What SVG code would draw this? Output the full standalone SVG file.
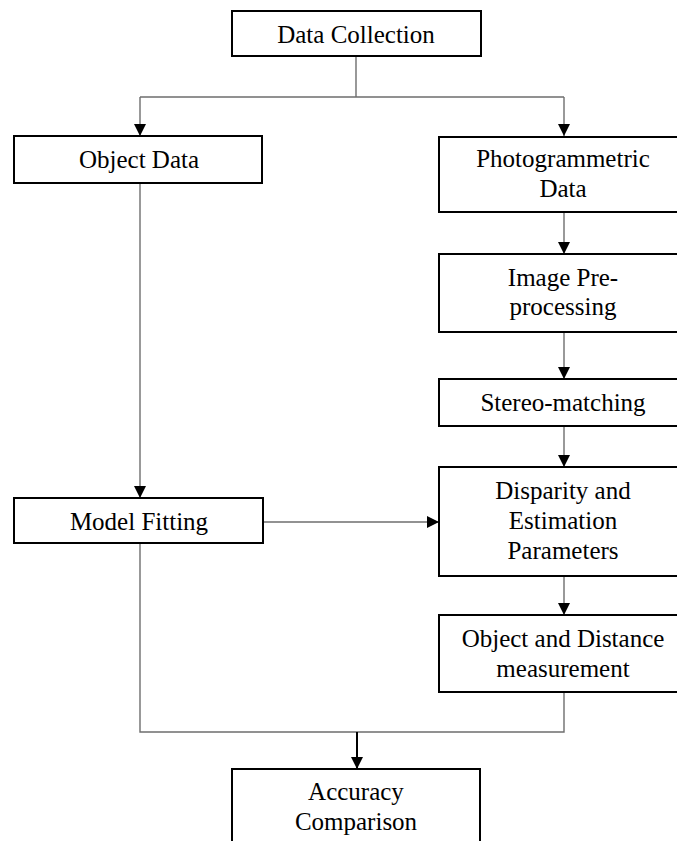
<svg xmlns="http://www.w3.org/2000/svg" width="677" height="841" viewBox="0 0 677 841">
<style>
.box{fill:#fff;stroke:#000;stroke-width:2}
.lbl{font-family:"Liberation Serif","Times New Roman",serif;font-size:25px;fill:#000;text-anchor:middle}
.con{fill:none;stroke:#6e6e6e;stroke-width:1.4}
.arr{marker-end:url(#ah)}
</style>
<defs>
<marker id="ah" markerUnits="userSpaceOnUse" markerWidth="12" markerHeight="14" refX="12" refY="6" orient="auto">
<path d="M0,0 L12,6 L0,12 Z" fill="#000"/>
</marker>
</defs>
<rect width="677" height="841" fill="#fff"/>
<g id="connectors">
<path class="con" d="M356,56 V97 M140,97 H564"/>
<path class="con arr" d="M140,97 V136"/>
<path class="con arr" d="M564,97 V136"/>
<path class="con arr" d="M140,183 V498"/>
<path class="con arr" d="M564,212 V254"/>
<path class="con arr" d="M564,332 V379"/>
<path class="con arr" d="M564,426 V467"/>
<path class="con arr" d="M263,522 H439"/>
<path class="con arr" d="M564,576 V615"/>
<path class="con" d="M140,543 V732 H564 V692"/>
<path class="arr" d="M357,732 V769" fill="none" stroke="#000" stroke-width="2"/>
</g>
<g id="data-collection">
<rect class="box" x="232" y="11" width="249" height="45"/>
<text class="lbl" x="356" y="43">Data Collection</text>
</g>
<g id="object-data">
<rect class="box" x="14" y="136" width="248" height="47"/>
<text class="lbl" x="139" y="168">Object Data</text>
</g>
<g id="photogrammetric-data">
<rect class="box" x="439" y="137" width="250" height="75"/>
<text class="lbl" x="563" y="167">Photogrammetric</text>
<text class="lbl" x="563" y="197">Data</text>
</g>
<g id="image-preprocessing">
<rect class="box" x="439" y="254" width="250" height="78"/>
<text class="lbl" x="563" y="286">Image Pre-</text>
<text class="lbl" x="563" y="315">processing</text>
</g>
<g id="stereo-matching">
<rect class="box" x="439" y="379" width="250" height="47"/>
<text class="lbl" x="563" y="411">Stereo-matching</text>
</g>
<g id="model-fitting">
<rect class="box" x="14" y="498" width="249" height="45"/>
<text class="lbl" x="139" y="530">Model Fitting</text>
</g>
<g id="disparity">
<rect class="box" x="439" y="467" width="250" height="109"/>
<text class="lbl" x="563" y="499">Disparity and</text>
<text class="lbl" x="563" y="529">Estimation</text>
<text class="lbl" x="563" y="559">Parameters</text>
</g>
<g id="object-distance">
<rect class="box" x="439" y="615" width="250" height="77"/>
<text class="lbl" x="563" y="647">Object and Distance</text>
<text class="lbl" x="563" y="677">measurement</text>
</g>
<g id="accuracy-comparison">
<rect class="box" x="232" y="769" width="248" height="90"/>
<text class="lbl" x="356" y="800">Accuracy</text>
<text class="lbl" x="356" y="830">Comparison</text>
</g>
</svg>
